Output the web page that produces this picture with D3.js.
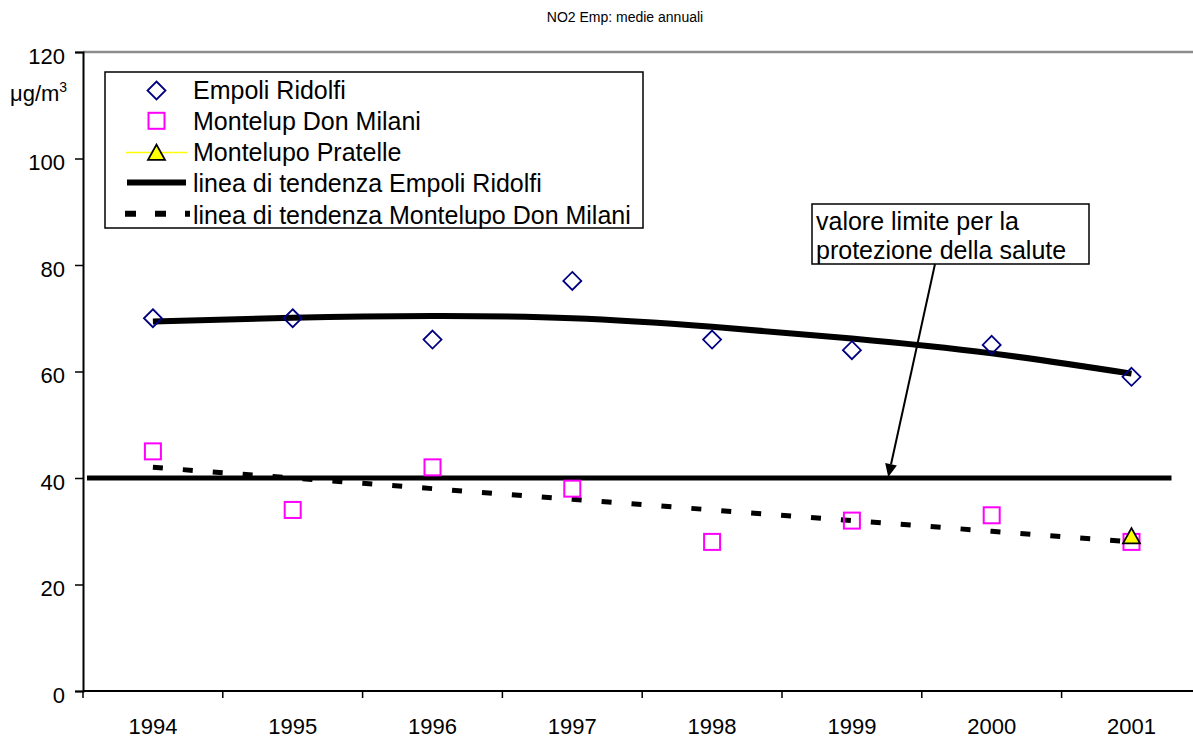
<!DOCTYPE html>
<html><head><meta charset="utf-8">
<script src="https://cdn.jsdelivr.net/npm/d3@7"></script>
<style>
html,body{margin:0;padding:0;background:#fff;}
svg{display:block;font-family:"Liberation Sans",Arial,Helvetica,sans-serif;}
</style></head>
<body>
<svg id="chart" width="1193" height="738"></svg>
<script>
// ---- data ----
const years = ["1994","1995","1996","1997","1998","1999","2000","2001"];
const empoliRidolfi = [70, 70, 66, 77, 66, 64, 65, 59];
const montelupDonMilani = [45, 34, 42, 38, 28, 32, 33, 28];
const montelupoPratelle = [null, null, null, null, null, null, null, 29];
const trendEmpoli = [69.4, 70.1, 70.4, 70.0, 68.4, 66.2, 63.4, 59.6];
const trendMontelupo = [42, 40, 38, 36, 34, 32, 30, 28];
const limitValue = 40;
const yTicks = [0, 20, 40, 60, 80, 100, 120];
const title = "NO2 Emp: medie annuali";
const legendLabels = ["Empoli Ridolfi","Montelup Don Milani","Montelupo Pratelle","linea di tendenza Empoli Ridolfi","linea di tendenza Montelupo Don Milani"];
const noteLines = ["valore limite per la","protezione della salute"];

// ---- layout ----
const svg = d3.select("#chart");
const W = 1193;
const pLeft = 83, pTop = 52, pBottom = 691, step = 139.8;
const x = d3.scaleBand().domain(years).range([pLeft, pLeft + step * years.length]).padding(0);
const xc = d => x(d) + x.bandwidth() / 2;
const y = d3.scaleLinear().domain([0, 120]).range([pBottom, pTop]);

// title
svg.append("text").attr("x", 625).attr("y", 22).attr("text-anchor", "middle")
  .attr("font-size", 14).text(title);

// top border (gray)
svg.append("line").attr("x1", pLeft).attr("x2", W).attr("y1", y(120)).attr("y2", y(120))
  .attr("stroke", "#8c8c8c").attr("stroke-width", 2.5);

// y axis
const yAxis = d3.axisLeft(y).tickValues(yTicks).tickSize(8).tickPadding(10);
const gy = svg.append("g").attr("transform", `translate(${pLeft},0)`).call(yAxis);
gy.select(".domain").attr("stroke", "#000").attr("stroke-width", 2);
gy.selectAll(".tick line").attr("stroke", "#000").attr("stroke-width", 1.5);
gy.selectAll(".tick text").attr("font-size", 22).attr("fill", "#000").attr("dy", "0.5em")
  .attr("font-family", "Liberation Sans, Arial, sans-serif");

// y unit label
const unit = svg.append("text").attr("x", 10).attr("y", 101).attr("font-size", 22);
unit.append("tspan").text("\u03BCg/m");
unit.append("tspan").attr("font-size", 14).attr("dy", -9).text("3");

// x axis
svg.append("line").attr("x1", pLeft).attr("x2", W).attr("y1", pBottom).attr("y2", pBottom)
  .attr("stroke", "#000").attr("stroke-width", 2);
const boundaries = years.map(d => x(d)).concat([x.range()[1]]);
svg.selectAll(".xtick").data(boundaries).join("line").attr("class", "xtick")
  .attr("x1", d => d).attr("x2", d => d).attr("y1", pBottom).attr("y2", pBottom + 7)
  .attr("stroke", "#000").attr("stroke-width", 1.5);
svg.selectAll(".xlab").data(years).join("text").attr("class", "xlab")
  .attr("x", d => xc(d)).attr("y", pBottom + 43).attr("text-anchor", "middle")
  .attr("font-size", 22).text(d => d);

// limit line
svg.append("line").attr("x1", pLeft + 4).attr("x2", xc("2001") + 40)
  .attr("y1", y(limitValue)).attr("y2", y(limitValue))
  .attr("stroke", "#000").attr("stroke-width", 5);

// trend lines
const lineGen = d3.line().x((d, i) => xc(years[i])).y(d => y(d)).curve(d3.curveNatural);
svg.append("path").attr("d", lineGen(trendEmpoli)).attr("fill", "none")
  .attr("stroke", "#000").attr("stroke-width", 6);
svg.append("path").attr("d", d3.line().x((d, i) => xc(years[i])).y(d => y(d))(trendMontelupo))
  .attr("fill", "none").attr("stroke", "#000").attr("stroke-width", 5)
  .attr("stroke-dasharray", "10,20");

// markers
const diamond = (cx, cy, r) => `M${cx},${cy - r}L${cx + r},${cy}L${cx},${cy + r}L${cx - r},${cy}Z`;
const triangle = (cx, cy, r) => `M${cx},${cy - r}L${cx + r},${cy + r * 0.8}L${cx - r},${cy + r * 0.8}Z`;

svg.selectAll(".emp").data(empoliRidolfi).join("path").attr("class", "emp")
  .attr("d", (d, i) => diamond(xc(years[i]), y(d), 9))
  .attr("fill", "none").attr("stroke", "#000080").attr("stroke-width", 1.8);
svg.selectAll(".mdm").data(montelupDonMilani).join("rect").attr("class", "mdm")
  .attr("x", (d, i) => xc(years[i]) - 8).attr("y", d => y(d) - 8)
  .attr("width", 16).attr("height", 16)
  .attr("fill", "none").attr("stroke", "#FF00FF").attr("stroke-width", 2);
svg.selectAll(".mpr").data(montelupoPratelle.map((v, i) => ({v, i})).filter(d => d.v != null))
  .join("path").attr("class", "mpr")
  .attr("d", d => triangle(xc(years[d.i]), y(d.v), 8.5))
  .attr("fill", "#FFFF00").attr("stroke", "#000").attr("stroke-width", 1.8);

// legend
const lg = svg.append("g");
lg.append("rect").attr("x", 105).attr("y", 72).attr("width", 538).attr("height", 156)
  .attr("fill", "#fff").attr("stroke", "#000").attr("stroke-width", 1.5);
const rowY = i => 98.5 + i * 31.3;
const symX = 156.5;
legendLabels.forEach((lab, i) => {
  lg.append("text").attr("x", 193).attr("y", rowY(i)).attr("font-size", 25).text(lab);
});
lg.append("path").attr("d", diamond(symX, rowY(0) - 8, 9)).attr("fill", "none")
  .attr("stroke", "#000080").attr("stroke-width", 1.8);
lg.append("rect").attr("x", symX - 8).attr("y", rowY(1) - 17).attr("width", 16).attr("height", 16)
  .attr("fill", "none").attr("stroke", "#FF00FF").attr("stroke-width", 2);
lg.append("line").attr("x1", 126).attr("x2", 187).attr("y1", rowY(2) - 8.5).attr("y2", rowY(2) - 8.5)
  .attr("stroke", "#FFFF00").attr("stroke-width", 1.5);
lg.append("path").attr("d", triangle(symX, rowY(2) - 8, 8.5)).attr("fill", "#FFFF00")
  .attr("stroke", "#000").attr("stroke-width", 1.8);
lg.append("line").attr("x1", 127).attr("x2", 186).attr("y1", rowY(3) - 10).attr("y2", rowY(3) - 10)
  .attr("stroke", "#000").attr("stroke-width", 6);
lg.append("line").attr("x1", 125).attr("x2", 190).attr("y1", rowY(4) - 10).attr("y2", rowY(4) - 10)
  .attr("stroke", "#000").attr("stroke-width", 6).attr("stroke-dasharray", "11,19");

// annotation
const ann = svg.append("g");
ann.append("rect").attr("x", 812).attr("y", 204).attr("width", 277).attr("height", 60)
  .attr("fill", "#fff").attr("stroke", "#000").attr("stroke-width", 1.5);
noteLines.forEach((t, i) => {
  ann.append("text").attr("x", 816).attr("y", 230 + i * 29).attr("font-size", 25).text(t);
});
const tipX = xc("1999") + 0.26 * step, tipY = y(limitValue) - 1;
const startX = 935, startY = 264;
const ang = Math.atan2(tipY - startY, tipX - startX);
const ah = 13, aw = 6;
const bx = tipX - ah * Math.cos(ang), by = tipY - ah * Math.sin(ang);
ann.append("line").attr("x1", startX).attr("y1", startY).attr("x2", bx).attr("y2", by)
  .attr("stroke", "#000").attr("stroke-width", 2);
ann.append("path").attr("d", `M${tipX},${tipY}L${bx + aw * Math.sin(ang)},${by - aw * Math.cos(ang)}L${bx - aw * Math.sin(ang)},${by + aw * Math.cos(ang)}Z`)
  .attr("fill", "#000");
</script>
</body></html>
